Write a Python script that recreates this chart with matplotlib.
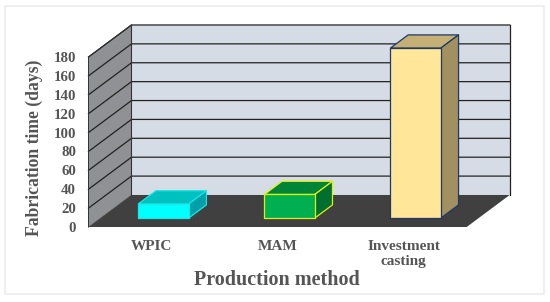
import matplotlib
matplotlib.use("Agg")
import matplotlib.pyplot as plt
from matplotlib.patches import Polygon, Rectangle

categories = ["WPIC", "MAM", "Investment\ncasting"]
fab_days = [15, 25, 180]
y_ticks = [0, 20, 40, 60, 80, 100, 120, 140, 160, 180]

front_colors = ["#00ffff", "#00b050", "#ffe699"]
top_colors = ["#00c0c0", "#008438", "#c4b074"]
side_colors = ["#00a0a8", "#007030", "#a39060"]
edge_colors = ["#19e6e6", "#e0ee10", "#1f3864"]

TEXT = "#555555"
DEPTH_X = 0.341  # depth of the box in x units
DEPTH_Y = 33.9   # depth of the box in days
BAR_W = 0.4
BAR_D0 = 0.28    # bar front, as a fraction of box depth
BAR_D1 = 0.69    # bar back

plt.rcParams["font.family"] = ["Liberation Serif", "DejaVu Serif"]
plt.rcParams["font.weight"] = "bold"

fig = plt.figure(figsize=(5.5, 3.02), dpi=100)
fig.add_artist(Rectangle((4.5 / 550, 8 / 302), 539.5 / 550, 288 / 302, transform=fig.transFigure,
                         facecolor="white", edgecolor="#ececec", linewidth=1.2, zorder=-1))
ax = fig.add_axes([88.5 / 550, 75 / 302, 378.2 / 550, 170 / 302])
ax.set_xlim(0, 3)
ax.set_ylim(0, 180)
ax.patch.set_visible(False)
for s in ax.spines.values():
    s.set_visible(False)


def proj(x, v, d):
    """Front plane coords of a point at fraction d of the box depth"""
    return (x + DEPTH_X * d, v + DEPTH_Y * d)


def face(points, color, edge="none", lw=0.0, z=1):
    ax.add_patch(Polygon(points, closed=True, facecolor=color, edgecolor=edge,
                         linewidth=lw, zorder=z, clip_on=False, joinstyle="round"))


# walls and floor
face([proj(0, 0, 0), proj(0, 0, 1), proj(0, 180, 1), proj(0, 180, 0)], "#8f9194", "#777777", 0.6)
face([proj(0, 0, 1), proj(3, 0, 1), proj(3, 180, 1), proj(0, 180, 1)], "#d6dce5", z=1)
face([proj(0, 0, 0), proj(3, 0, 0), proj(3, 0, 1), proj(0, 0, 1)], "#404040", z=2)

# gridlines, over the side wall then along the back wall
for t in y_ticks[1:]:
    pts = [proj(0, t, 0), proj(0, t, 1), proj(3, t, 1)]
    ax.plot([p[0] for p in pts], [p[1] for p in pts], color="#222222", lw=0.9, zorder=3,
            clip_on=False, solid_joinstyle="miter")
pts = [proj(0, 0, 1), proj(0, 180, 1)]
ax.plot([p[0] for p in pts], [p[1] for p in pts], color="#333333", lw=0.8, zorder=3, clip_on=False)
pts = [proj(3, 0, 1), proj(3, 180, 1)]
ax.plot([p[0] for p in pts], [p[1] for p in pts], color="#222222", lw=0.9, zorder=3, clip_on=False)
pts = [proj(0, 0, 0), proj(0, 180, 0), proj(0, 180, 1)]
ax.plot([p[0] for p in pts], [p[1] for p in pts], color="#333333", lw=0.7, zorder=3, clip_on=False)

# bars
for i, v in enumerate(fab_days):
    x0 = i + 0.5 - BAR_W / 2
    x1 = i + 0.5 + BAR_W / 2
    e = edge_colors[i]
    face([proj(x0, v, BAR_D0), proj(x1, v, BAR_D0), proj(x1, v, BAR_D1), proj(x0, v, BAR_D1)],
         top_colors[i], e, 0.9, 4)
    face([proj(x1, 0, BAR_D0), proj(x1, 0, BAR_D1), proj(x1, v, BAR_D1), proj(x1, v, BAR_D0)],
         side_colors[i], e, 0.9, 4)
    face([proj(x0, 0, BAR_D0), proj(x1, 0, BAR_D0), proj(x1, v, BAR_D0), proj(x0, v, BAR_D0)],
         front_colors[i], e, 0.9, 5)

ax.set_yticks(y_ticks)
ax.set_yticklabels([str(t) for t in y_ticks])
ax.set_xticks([0.5, 1.5, 2.5])
ax.set_xticklabels(categories, linespacing=1.3)
ax.tick_params(axis="y", length=0, pad=9, labelsize=10.7, labelcolor=TEXT)
ax.tick_params(axis="x", length=0, pad=9, labelsize=11, labelcolor=TEXT)

fig.text(277 / 550, 1 - 280 / 302, "Production method", ha="center", va="center",
         fontsize=14.5, color=TEXT, fontweight="bold")
fig.text(34 / 550, 1 - 148 / 302, "Fabrication time (days)", ha="center", va="center",
         rotation=90, fontsize=12.7, color=TEXT, fontweight="bold")

fig.savefig("out.png", dpi=100)
